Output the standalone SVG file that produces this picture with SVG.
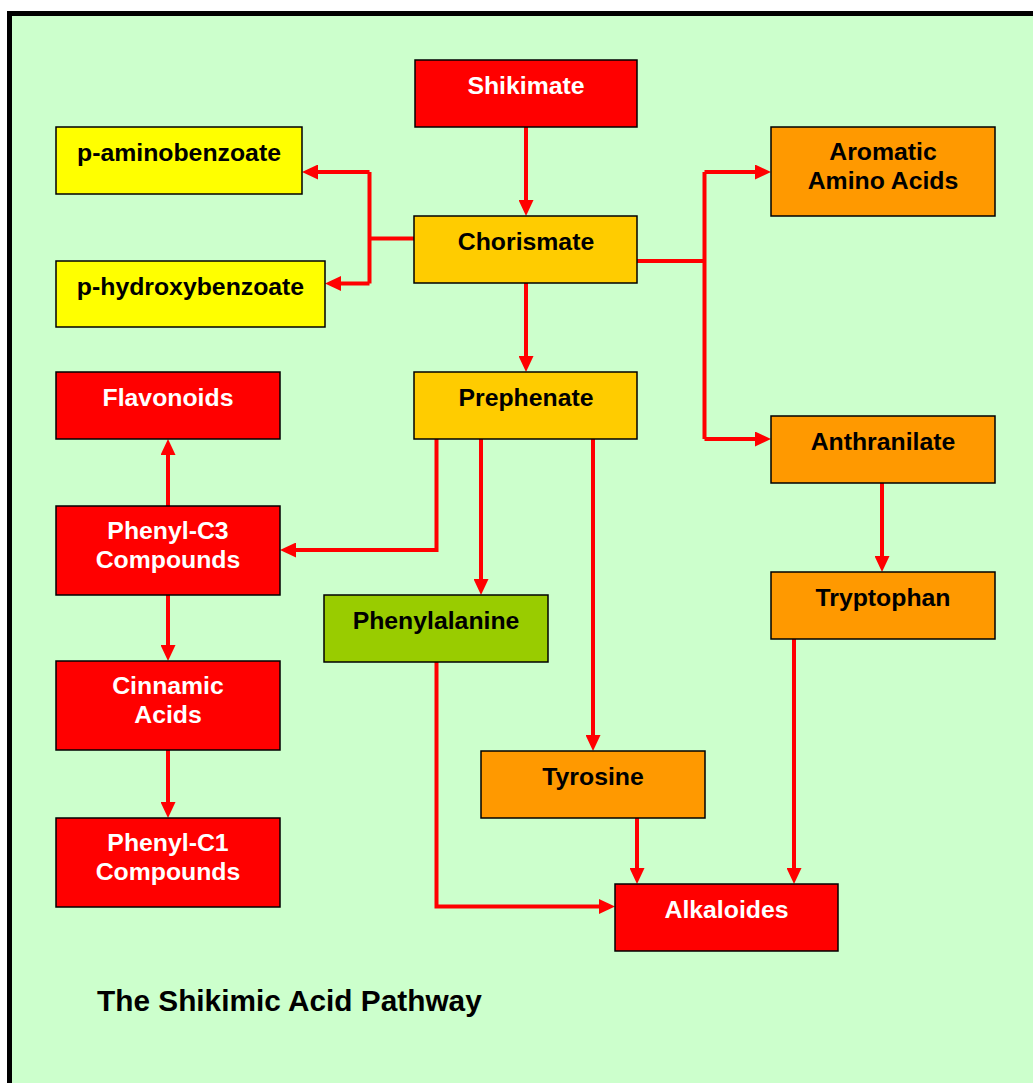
<svg xmlns="http://www.w3.org/2000/svg" width="1033" height="1083" viewBox="0 0 1033 1083">
  <style>
    .box { stroke: #000; stroke-width: 1.5; }
    .red { fill: #FF0000; }
    .yellow { fill: #FFFF00; }
    .gold { fill: #FFCC00; }
    .orange { fill: #FF9900; }
    .green { fill: #99CC00; }
    .label { font-family: "Liberation Sans", Arial, sans-serif; font-weight: bold; font-size: 24.8px; text-anchor: middle; }
    .light { fill: #FFFFFF; }
    .dark { fill: #000000; }
    .wire { fill: none; stroke: #FF0000; stroke-width: 4; }
    .title { font-family: "Liberation Sans", Arial, sans-serif; font-weight: bold; font-size: 29.8px; fill: #000; }
  </style>
  <defs>
    <marker id="head" markerUnits="userSpaceOnUse" markerWidth="17" markerHeight="15" refX="5" refY="7.5" orient="auto">
      <path d="M0,0 L16,7.5 L0,15 z" fill="#FF0000"/>
    </marker>
  </defs>

  <!-- page -->
  <rect x="0" y="0" width="1033" height="1083" fill="#FFFFFF"/>
  <rect x="9.5" y="13.5" width="1040" height="1090" fill="#CCFFCC" stroke="#000" stroke-width="5"/>

  <!-- connectors -->
  <g id="connectors">
    <path class="wire" d="M526,127 V205" marker-end="url(#head)"/>
    <path class="wire" d="M414,238.5 H369.5"/>
    <path class="wire" d="M369.5,172 V283.5"/>
    <path class="wire" d="M369.5,172 H313" marker-end="url(#head)"/>
    <path class="wire" d="M369.5,283.5 H336" marker-end="url(#head)"/>
    <path class="wire" d="M637,261 H704.5"/>
    <path class="wire" d="M704.5,172 V439"/>
    <path class="wire" d="M704.5,172 H760" marker-end="url(#head)"/>
    <path class="wire" d="M704.5,439 H760" marker-end="url(#head)"/>
    <path class="wire" d="M526,283 V361" marker-end="url(#head)"/>
    <path class="wire" d="M436.5,439 V550 H291" marker-end="url(#head)"/>
    <path class="wire" d="M481,439 V584" marker-end="url(#head)"/>
    <path class="wire" d="M593,439 V740" marker-end="url(#head)"/>
    <path class="wire" d="M882,483 V561" marker-end="url(#head)"/>
    <path class="wire" d="M168,506 V450" marker-end="url(#head)"/>
    <path class="wire" d="M168,595 V650" marker-end="url(#head)"/>
    <path class="wire" d="M168,750 V807" marker-end="url(#head)"/>
    <path class="wire" d="M436.5,662 V906.5 H604" marker-end="url(#head)"/>
    <path class="wire" d="M637,818 V873" marker-end="url(#head)"/>
    <path class="wire" d="M794,639 V873" marker-end="url(#head)"/>
  </g>

  <!-- nodes -->
  <g id="shikimate">
    <rect class="box red" x="415" y="60" width="222" height="67"/>
    <text class="label light" x="526" y="94">Shikimate</text>
  </g>
  <g id="p-aminobenzoate">
    <rect class="box yellow" x="56" y="127" width="246" height="67"/>
    <text class="label dark" x="179" y="161">p-aminobenzoate</text>
  </g>
  <g id="chorismate">
    <rect class="box gold" x="414" y="216" width="223" height="67"/>
    <text class="label dark" x="526" y="250">Chorismate</text>
  </g>
  <g id="p-hydroxybenzoate">
    <rect class="box yellow" x="56" y="261" width="269" height="66"/>
    <text class="label dark" x="190.5" y="295">p-hydroxybenzoate</text>
  </g>
  <g id="aromatic-amino-acids">
    <rect class="box orange" x="771" y="127" width="224" height="89"/>
    <text class="label dark" x="883" y="160">Aromatic</text>
    <text class="label dark" x="883" y="189">Amino Acids</text>
  </g>
  <g id="flavonoids">
    <rect class="box red" x="56" y="372" width="224" height="67"/>
    <text class="label light" x="168" y="406">Flavonoids</text>
  </g>
  <g id="prephenate">
    <rect class="box gold" x="414" y="372" width="223" height="67"/>
    <text class="label dark" x="526" y="406">Prephenate</text>
  </g>
  <g id="anthranilate">
    <rect class="box orange" x="771" y="416" width="224" height="67"/>
    <text class="label dark" x="883" y="450">Anthranilate</text>
  </g>
  <g id="phenyl-c3">
    <rect class="box red" x="56" y="506" width="224" height="89"/>
    <text class="label light" x="168" y="539">Phenyl-C3</text>
    <text class="label light" x="168" y="568">Compounds</text>
  </g>
  <g id="phenylalanine">
    <rect class="box green" x="324" y="595" width="224" height="67"/>
    <text class="label dark" x="436" y="629">Phenylalanine</text>
  </g>
  <g id="tryptophan">
    <rect class="box orange" x="771" y="572" width="224" height="67"/>
    <text class="label dark" x="883" y="606">Tryptophan</text>
  </g>
  <g id="cinnamic-acids">
    <rect class="box red" x="56" y="661" width="224" height="89"/>
    <text class="label light" x="168" y="694">Cinnamic</text>
    <text class="label light" x="168" y="723">Acids</text>
  </g>
  <g id="tyrosine">
    <rect class="box orange" x="481" y="751" width="224" height="67"/>
    <text class="label dark" x="593" y="785">Tyrosine</text>
  </g>
  <g id="phenyl-c1">
    <rect class="box red" x="56" y="818" width="224" height="89"/>
    <text class="label light" x="168" y="851">Phenyl-C1</text>
    <text class="label light" x="168" y="880">Compounds</text>
  </g>
  <g id="alkaloides">
    <rect class="box red" x="615" y="884" width="223" height="67"/>
    <text class="label light" x="726.5" y="918">Alkaloides</text>
  </g>

  <text class="title" x="97" y="1011">The Shikimic Acid Pathway</text>
</svg>
